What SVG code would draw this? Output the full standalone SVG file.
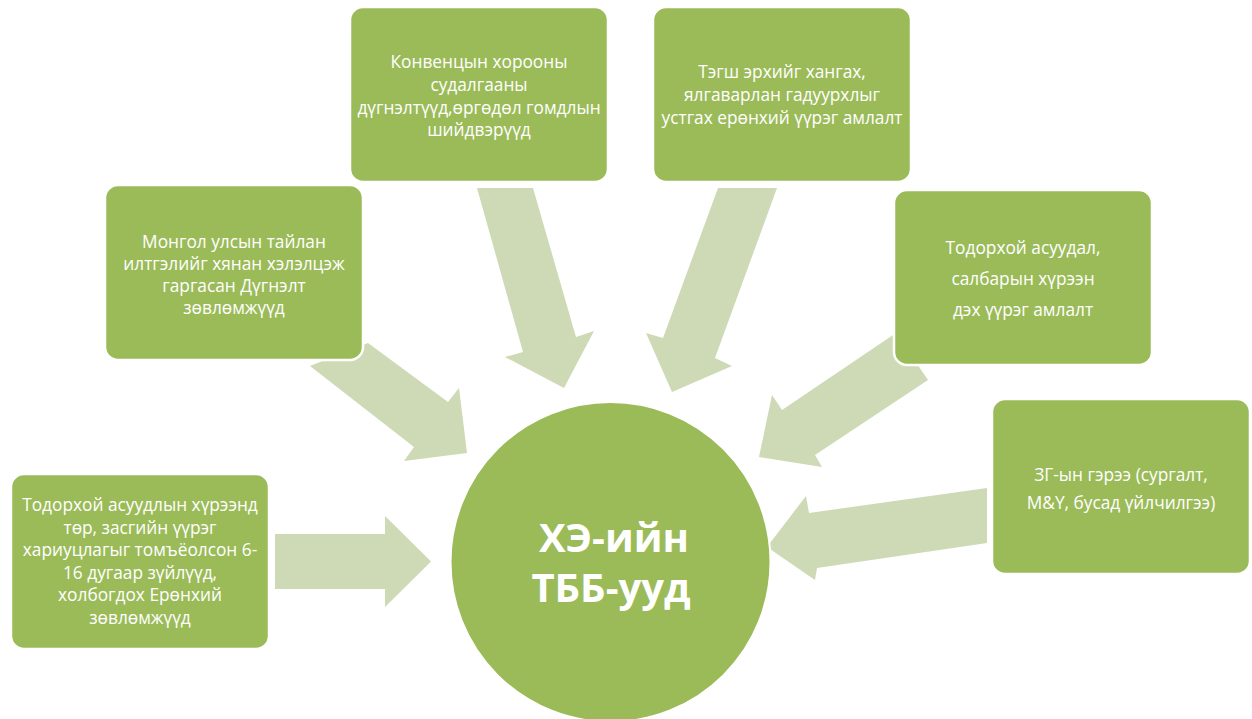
<svg xmlns="http://www.w3.org/2000/svg" width="1252" height="719" viewBox="0 0 1252 719">
<style>
.box{fill:#9BBB59;stroke:#fff;stroke-width:2.5}
.arr{fill:#CDDAB5}
.t{font-family:"Open Sans","Noto Sans","DejaVu Sans",sans-serif;font-size:17.3px;fill:#fff;text-anchor:middle}
.c{font-family:"Open Sans","Noto Sans","DejaVu Sans",sans-serif;font-size:40px;font-weight:bold;fill:#fff;text-anchor:middle}
</style>
<rect width="1252" height="719" fill="#fff"/>
<g id="connectors">
<polygon class="arr" points="275,534 385,534 385,516 431,561.5 385,607 385,589 275,589"/>
<polygon class="arr" points="310,366 368,343 448,402 459,388 467,453 404,461 414,447"/>
<polygon class="arr" points="477,188 533,188 576,337 594,331 564,388 505,357 523,352"/>
<polygon class="arr" points="718,188 777,188 715,358 732,366 672,392 646,333 663,338"/>
<polygon class="arr" points="896,333 928,380 815,455 822,467 759,457 772,395 782,410"/>
<polygon class="arr" points="987,488 987,543 817,568 815,580 767,547 806,496 809,513"/>
</g>
<g id="n1">
<rect class="box" x="11" y="474" width="258" height="175" rx="13"/>
<text class="t"><tspan x="140" y="511">Тодорхой асуудлын хүрээнд</tspan><tspan x="140" y="533.5">төр, засгийн үүрэг</tspan><tspan x="140" y="556">хариуцлагыг томъёолсон 6-</tspan><tspan x="140" y="578.5">16 дугаар зүйлүүд,</tspan><tspan x="140" y="601">холбогдох Ерөнхий</tspan><tspan x="140" y="623.5">зөвлөмжүүд</tspan></text>
</g>
<g id="n2">
<rect class="box" x="105" y="185" width="258" height="175" rx="13"/>
<text class="t"><tspan x="234" y="248">Монгол улсын тайлан</tspan><tspan x="234" y="270">илтгэлийг хянан хэлэлцэж</tspan><tspan x="234" y="292">гаргасан Дүгнэлт</tspan><tspan x="234" y="314">зөвлөмжүүд</tspan></text>
</g>
<g id="n3">
<rect class="box" x="350" y="7" width="258" height="175" rx="13"/>
<text class="t"><tspan x="479" y="68">Конвенцын хорооны</tspan><tspan x="479" y="91">судалгааны</tspan><tspan x="479" y="113.5">дүгнэлтүүд,өргөдөл гомдлын</tspan><tspan x="479" y="136">шийдвэрүүд</tspan></text>
</g>
<g id="n4">
<rect class="box" x="653" y="7" width="258" height="175" rx="13"/>
<text class="t"><tspan x="782" y="78">Тэгш эрхийг хангах,</tspan><tspan x="782" y="101">ялгаварлан гадуурхлыг</tspan><tspan x="782" y="124">устгах ерөнхий үүрэг амлалт</tspan></text>
</g>
<g id="n5">
<rect class="box" x="894" y="190" width="258" height="175" rx="13"/>
<text class="t"><tspan x="1023" y="254">Тодорхой асуудал,</tspan><tspan x="1023" y="285">салбарын хүрээн</tspan><tspan x="1023" y="316">дэх үүрэг амлалт</tspan></text>
</g>
<g id="n6">
<rect class="box" x="992" y="399" width="258" height="175" rx="13"/>
<text class="t"><tspan x="1121" y="481">ЗГ-ын гэрээ (сургалт,</tspan><tspan x="1121" y="509">M&amp;Y, бусад үйлчилгээ)</tspan></text>
</g>
<g id="center">
<circle cx="610.5" cy="562" r="160" fill="#9BBB59" stroke="#fff" stroke-width="2"/>
<text class="c" x="614" y="552">ХЭ-ийн</text>
<text class="c" x="611" y="602">ТББ-ууд</text>
</g>
</svg>
